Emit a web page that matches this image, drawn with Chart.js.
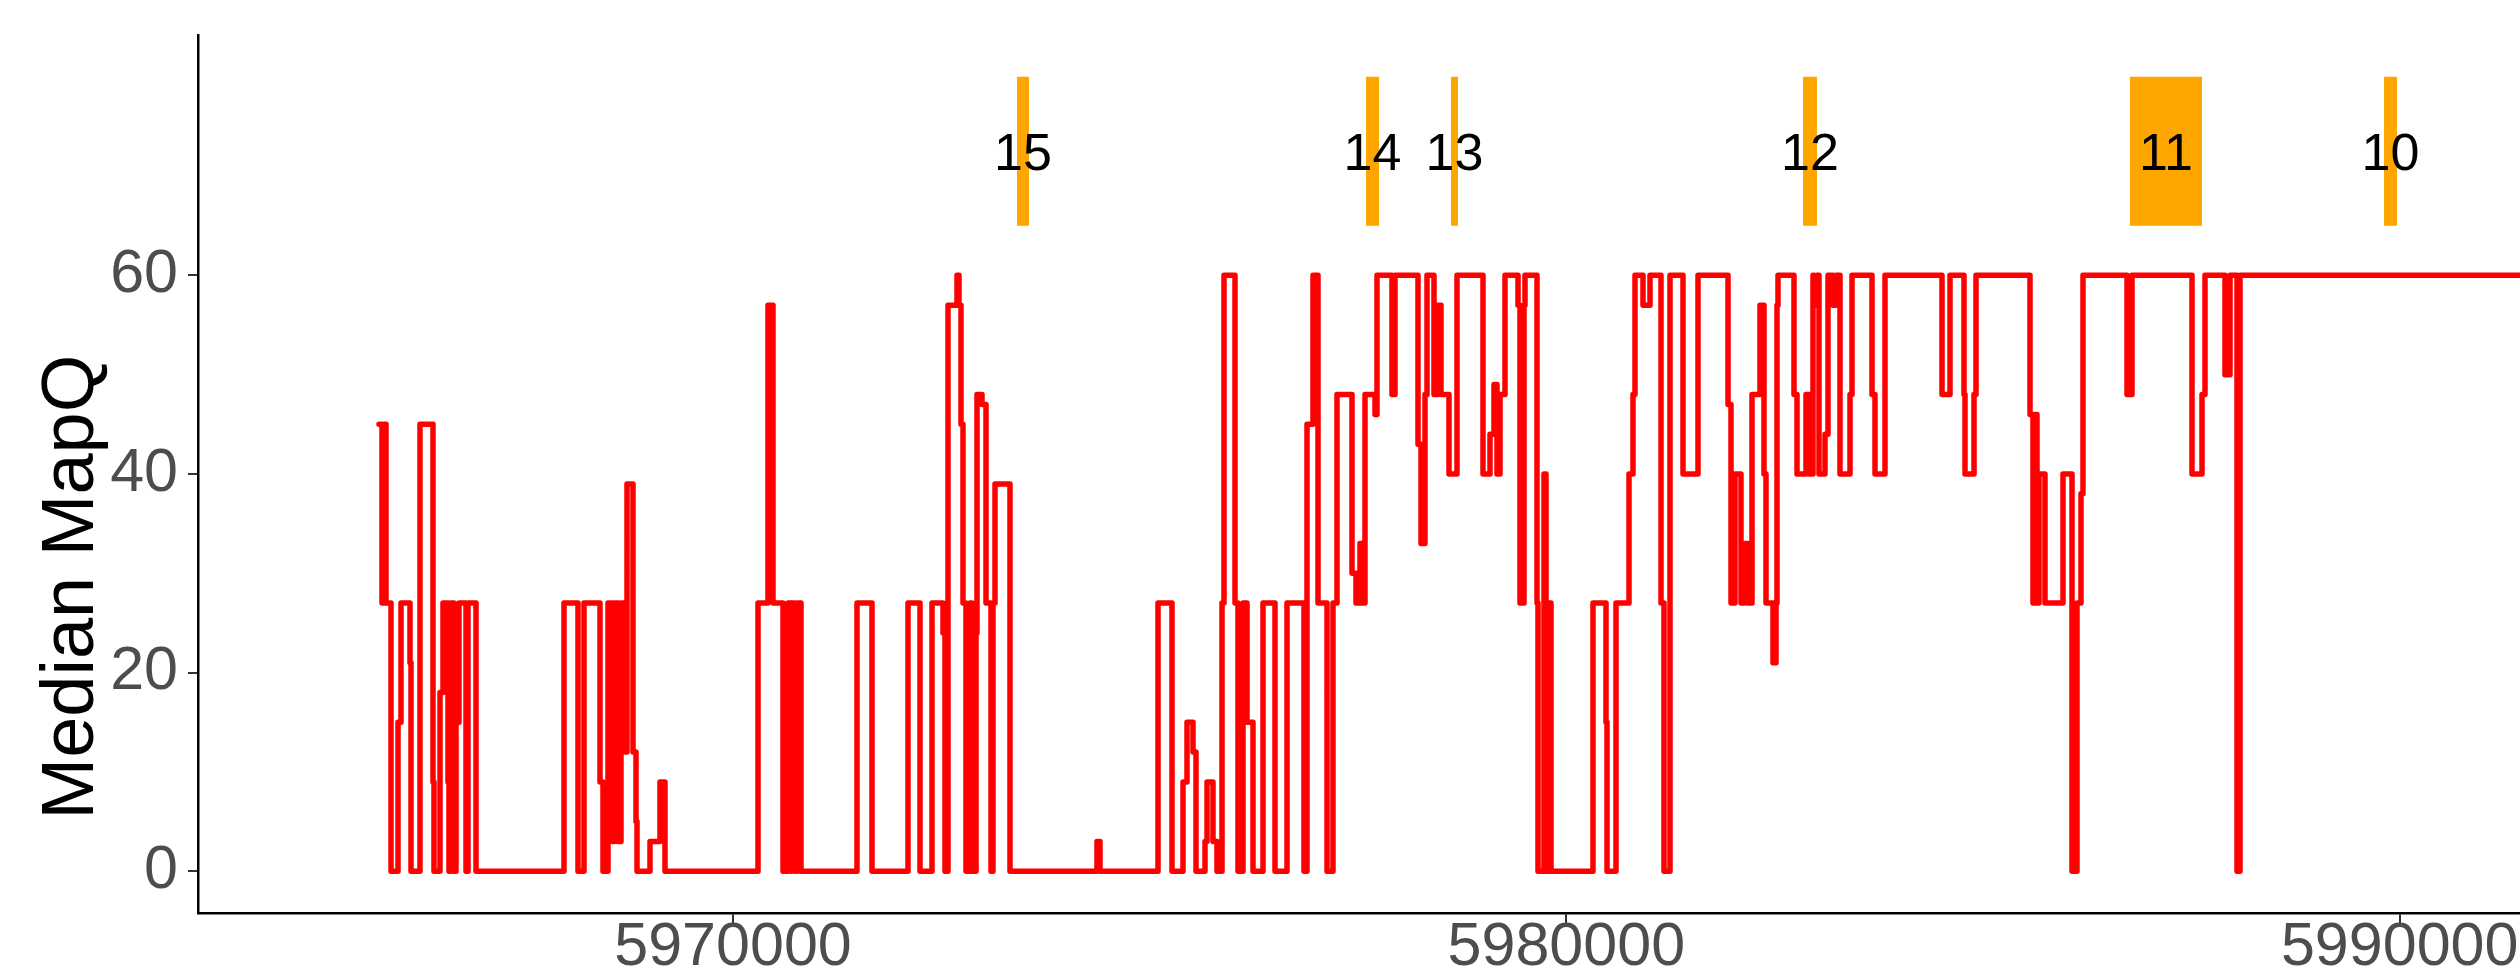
<!DOCTYPE html>
<html>
<head>
<meta charset="utf-8">
<title>Median MapQ</title>
<script src="https://cdn.jsdelivr.net/npm/chart.js@4.4.1/dist/chart.umd.min.js"></script>
<style>
  html, body { margin: 0; padding: 0; background: #fff; }
  #wrap { width: 2520px; height: 979px; }
</style>
</head>
<body>
<div id="wrap"><canvas id="mapqChart" width="2520" height="979"></canvas></div>
<script>
// Step starts (bp) and the median MapQ that holds from each start to the next one
const positions = [
  5965752, 5965788, 5965812, 5965836, 5965896, 5965980, 5966016, 5966124, 5966136, 5966244,
  5966400, 5966412, 5966484, 5966520, 5966580, 5966592, 5966616, 5966652, 5966676, 5966712,
  5966796, 5966820, 5966916, 5967972, 5968140, 5968212, 5968404, 5968440, 5968500, 5968548,
  5968572, 5968620, 5968656, 5968704, 5968728, 5968800, 5968836, 5968848, 5969004, 5969124,
  5969184, 5970300, 5970420, 5970480, 5970600, 5970660, 5970696, 5970708, 5970744, 5970768,
  5970816, 5971488, 5971668, 5972100, 5972244, 5972388, 5972520, 5972544, 5972580, 5972688,
  5972712, 5972736, 5972760, 5972796, 5972844, 5972868, 5972916, 5972928, 5972988, 5973036,
  5973096, 5973120, 5973144, 5973324, 5974368, 5974404, 5975100, 5975268, 5975400, 5975448,
  5975520, 5975556, 5975664, 5975688, 5975760, 5975808, 5975868, 5975892, 5976024, 5976060,
  5976120, 5976168, 5976240, 5976360, 5976504, 5976648, 5976852, 5976888, 5976960, 5977020,
  5977128, 5977200, 5977248, 5977428, 5977476, 5977524, 5977548, 5977584, 5977704, 5977728,
  5977908, 5977944, 5978220, 5978256, 5978304, 5978328, 5978412, 5978460, 5978496, 5978592,
  5978688, 5979000, 5979084, 5979132, 5979168, 5979204, 5979264, 5979420, 5979444, 5979492,
  5979504, 5979648, 5979660, 5979732, 5979756, 5979792, 5979816, 5980320, 5980476, 5980488,
  5980596, 5980752, 5980800, 5980824, 5980920, 5981004, 5981136, 5981172, 5981244, 5981400,
  5981580, 5981940, 5981976, 5982024, 5982096, 5982144, 5982180, 5982228, 5982324, 5982372,
  5982396, 5982480, 5982516, 5982528, 5982540, 5982732, 5982768, 5982876, 5982912, 5982960,
  5982972, 5983008, 5983032, 5983104, 5983140, 5983200, 5983236, 5983284, 5983404, 5983428,
  5983668, 5983704, 5983824, 5984508, 5984604, 5984772, 5984784, 5984892, 5984916, 5985564,
  5985600, 5985624, 5985648, 5985672, 5985744, 5985960, 5986068, 5986128, 5986176, 5986200,
  5986728, 5986788, 5987508, 5987628, 5987664, 5987904, 5987964, 5988048, 5988084, 5992000
];
const mapq = [
  45, 27, 45, 27, 0, 15, 27, 21, 0, 45,
  9, 0, 18, 27, 9, 0, 27, 0, 15, 27,
  0, 27, 0, 27, 0, 27, 9, 0, 27, 3,
  27, 3, 27, 12, 39, 12, 5, 0, 3, 9,
  0, 27, 57, 27, 0, 27, 0, 27, 0, 27,
  0, 27, 0, 27, 0, 27, 24, 0, 57, 60,
  57, 45, 27, 0, 27, 0, 24, 48, 47, 27,
  0, 27, 39, 0, 3, 0, 27, 0, 9, 15,
  12, 0, 3, 9, 3, 0, 27, 60, 27, 0,
  27, 15, 0, 27, 0, 27, 0, 45, 60, 27,
  0, 27, 48, 30, 27, 33, 27, 48, 46, 60,
  48, 60, 43, 33, 48, 60, 48, 57, 48, 40,
  60, 40, 44, 49, 40, 48, 60, 57, 27, 57,
  60, 27, 0, 40, 0, 27, 0, 27, 15, 0,
  27, 40, 48, 60, 57, 60, 27, 0, 60, 40,
  60, 47, 27, 40, 27, 33, 27, 48, 57, 40,
  27, 21, 27, 57, 60, 48, 40, 48, 40, 60,
  57, 60, 40, 44, 60, 57, 60, 40, 48, 60,
  48, 40, 60, 48, 60, 48, 40, 48, 60, 46,
  27, 46, 27, 40, 27, 40, 0, 27, 38, 60,
  48, 60, 40, 48, 60, 50, 60, 0, 60, 60
];

// Numbered regions drawn as orange boxes above the trace
const regionLabels = ['15', '14', '13', '12', '11', '10'];
const regionStart = [5973408, 5977596, 5978616, 5982840, 5986764, 5989812];
const regionEnd = [5973552, 5977752, 5978700, 5983008, 5987628, 5989968];
const regionBottom = 65;
const regionTop = 80;

// Axis ticks
const xTicks = [5970000, 5980000, 5990000];
const yTicks = [0, 20, 40, 60];

Chart.defaults.font.family = '"Liberation Sans", Arial, sans-serif';

const stepData = positions.map((p, i) => ({ x: p, y: mapq[i] }));

const regionSets = regionLabels.map((lab, i) => ({
    label: 'region ' + lab,
    data: [{ x: regionStart[i], y: regionTop }, { x: regionEnd[i], y: regionTop }],
    fill: { value: regionBottom },
    backgroundColor: '#FFA500',
    borderWidth: 0,
    pointRadius: 0
}));

// Write the region numbers in the middle of each box
const regionText = {
    id: 'regionText',
    afterDatasetsDraw(chart) {
        const { ctx, scales: { x, y } } = chart;
        ctx.save();
        ctx.font = '52px "Liberation Sans", Arial, sans-serif';
        ctx.fillStyle = '#000';
        ctx.textAlign = 'center';
        ctx.textBaseline = 'middle';
        regionLabels.forEach((lab, i) => {
            const mid = (regionStart[i] + regionEnd[i]) / 2;
            ctx.fillText(lab, x.getPixelForValue(mid), y.getPixelForValue((regionBottom + regionTop) / 2) + 4);
        });
        ctx.restore();
    }
};

// keep the plot panel where the reference has it (no extra room for edge labels)
function noEdgePadding(s) {
    s.paddingTop = 0;
    s.paddingBottom = 0;
    s.paddingLeft = 0;
    s.paddingRight = 0;
}

const ctx = document.getElementById('mapqChart').getContext('2d');
new Chart(ctx, {
    type: 'line',
    data: {
        datasets: [
            ...regionSets,
            {
                label: 'Median MapQ',
                data: stepData,
                stepped: true,
                borderColor: '#FF0000',
                borderWidth: 5.5,
                borderCapStyle: 'round',
                borderJoinStyle: 'round',
                pointRadius: 0,
                fill: false
            }
        ]
    },
    options: {
        responsive: false,
        animation: false,
        devicePixelRatio: 1,
        layout: { padding: { top: 35, right: 0, left: 0, bottom: 0 } },
        plugins: {
            legend: { display: false },
            tooltip: { enabled: false }
        },
        scales: {
            x: {
                type: 'linear',
                min: 5963580,
                max: 5991444,
                afterBuildTicks: s => { s.ticks = xTicks.map(v => ({ value: v })); },
                afterFit: s => { s.height = 66; noEdgePadding(s); },
                ticks: {
                    autoSkip: false,
                    maxRotation: 0,
                    padding: -5,
                    color: '#4D4D4D',
                    font: { size: 61, lineHeight: 1.0 },
                    callback: v => String(v)
                },
                grid: { drawOnChartArea: false, drawTicks: true, tickLength: 10, color: '#333', lineWidth: 2 },
                border: { display: true, color: '#000', width: 2.5 }
            },
            y: {
                min: -4.2,
                max: 84.2,
                afterBuildTicks: s => { s.ticks = yTicks.map(v => ({ value: v })); },
                afterFit: s => { s.width = 198; noEdgePadding(s); },
                ticks: {
                    padding: 10,
                    color: '#4D4D4D',
                    font: { size: 61 }
                },
                grid: { drawOnChartArea: false, drawTicks: true, tickLength: 10, color: '#333', lineWidth: 2 },
                border: { display: true, color: '#000', width: 2.5 },
                title: {
                    display: true,
                    // trailing spaces push the words down the axis, as in the reference
                    text: 'Median MapQ           ',
                    color: '#000',
                    font: { size: 74 },
                    padding: { top: 28, bottom: 0 }
                }
            }
        }
    },
    plugins: [regionText]
});
</script>
</body>
</html>
